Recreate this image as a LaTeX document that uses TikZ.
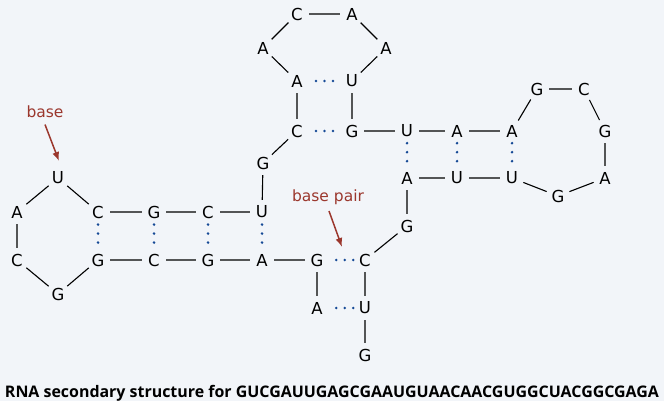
\documentclass[tikz,border=0pt]{standalone}
\usepackage{fontspec}
\setmainfont{DejaVu Sans}
\newfontfamily\captionfont{Open Sans}
\usetikzlibrary{calc,arrows.meta}
\definecolor{bgcol}{RGB}{242,245,249}
\definecolor{paircol}{RGB}{22,74,150}
\definecolor{notecol}{RGB}{155,55,45}
\tikzset{
  base/.style={circle,inner sep=0pt,minimum size=24pt,font=\fontsize{16.5}{16.5}\selectfont},
  bond/.style={draw=black,line width=1.1pt},
  note/.style={text=notecol,font=\fontsize{15.5}{15.5}\selectfont},
  pointer/.style={draw=notecol,line width=1.5pt,-{Latex[length=9pt,width=7pt]}},
}
% three dots marking a base pair, centred at #1, stepping along #2
\newcommand{\pairdots}[2]{%
  \foreach \k in {-1,0,1}{\fill[paircol] ($#1+\k*#2$) circle (1.4pt);}}
\begin{document}
\begin{tikzpicture}[x=1pt,y=-1pt]
\fill[bgcol] (0,0) rectangle (664,401);
\useasboundingbox (0,0) rectangle (664,401);

% left hairpin and first stem
\node[base] (u1) at (58,178) {U};
\node[base] (a1) at (17,212) {A};
\node[base] (c1) at (17,260) {C};
\node[base] (g1) at (58,294) {G};
\node[base] (c2) at (98,212) {C};
\node[base] (g2) at (154,212) {G};
\node[base] (c3) at (208,212) {C};
\node[base] (u2) at (262,212) {U};
\node[base] (g3) at (98,260) {G};
\node[base] (c4) at (154,260) {C};
\node[base] (g4) at (208,260) {G};
\node[base] (a2) at (262,260) {A};
% lower branch
\node[base] (g5) at (317,260) {G};
\node[base] (a3) at (317,308) {A};
\node[base] (u3) at (365,308) {U};
\node[base] (g6) at (365,355) {G};
\node[base] (c5) at (365,260) {C};
\node[base] (g7) at (407,226) {G};
% right stem and hairpin
\node[base] (a4) at (407,178) {A};
\node[base] (u4) at (457,178) {U};
\node[base] (u5) at (512,178) {U};
\node[base] (g8) at (558,196) {G};
\node[base] (a5) at (605,178) {A};
\node[base] (g9) at (605,131) {G};
\node[base] (c6) at (584,89) {C};
\node[base] (g10) at (537,89) {G};
\node[base] (a6) at (512,131) {A};
\node[base] (a7) at (457,131) {A};
\node[base] (u6) at (407,131) {U};
% top stem and hairpin
\node[base] (g11) at (352,131) {G};
\node[base] (u7) at (352,81) {U};
\node[base] (a8) at (386,48) {A};
\node[base] (a9) at (352,14) {A};
\node[base] (c7) at (297,14) {C};
\node[base] (a10) at (263,48) {A};
\node[base] (a11) at (297,81) {A};
\node[base] (c8) at (297,131) {C};
\node[base] (g12) at (263,163) {G};

% backbone
\draw[bond] (g6)--(u3)--(c5)--(g7)--(a4)--(u4)--(u5)--(g8)--(a5)--(g9)--(c6)--(g10)--(a6)--(a7)--(u6)--(g11)--(u7)--(a8)--(a9)--(c7)--(a10)--(a11)--(c8)--(g12)--(u2)--(c3)--(g2)--(c2)--(u1)--(a1)--(c1)--(g1)--(g3)--(c4)--(g4)--(a2)--(g5)--(a3);

% base pairs
\pairdots{($(a11)!0.5!(u7)$)}{(8.5,0)}
\pairdots{($(c8)!0.5!(g11)$)}{(8.5,0)}
\pairdots{($(g5)!0.58!(c5)$)}{(8.5,0)}
\pairdots{($(a3)!0.58!(u3)$)}{(8.5,0)}
\pairdots{($(u6)!0.45!(a4)$)}{(0,9)}
\pairdots{($(a7)!0.45!(u4)$)}{(0,9)}
\pairdots{($(a6)!0.45!(u5)$)}{(0,9)}
\pairdots{($(c2)!0.45!(g3)$)}{(0,9)}
\pairdots{($(g2)!0.45!(c4)$)}{(0,9)}
\pairdots{($(c3)!0.45!(g4)$)}{(0,9)}
\pairdots{($(u2)!0.45!(a2)$)}{(0,9)}

% annotations
\node[note] (lbase) at (45,112) {base};
\coordinate (tbase) at (59,161);
\draw[pointer] (lbase.south) ++(0,3) -- (tbase);
\node[note] (lpair) at (328,197) {base pair};
\coordinate (tpair) at (342,247);
\draw[pointer] (lpair.south) ++(1,3) -- (tpair);

% caption
\node[anchor=base,inner sep=0pt] (title) at (332,397) {\resizebox{654pt}{!}{\captionfont\bfseries RNA secondary structure for GUCGAUUGAGCGAAUGUAACAACGUGGCUACGGCGAGA}};
\end{tikzpicture}
\end{document}
